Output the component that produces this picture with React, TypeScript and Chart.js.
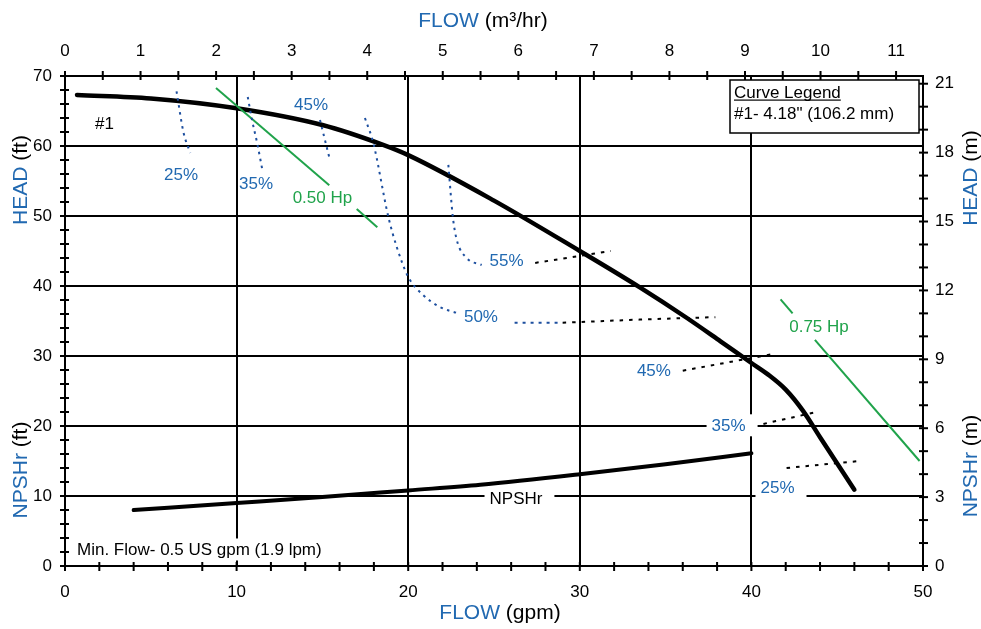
import React, { useEffect, useRef } from "react";
import { Chart, registerables } from "chart.js";

Chart.register(...registerables);

const FONT = '"Liberation Sans", Arial, Helvetica, sans-serif';
const BLUE = "#2169b1";
const EFF_BLUE = "#1d4f9f";
const GREEN = "#20a34b";
const BLACK = "#000000";

// unit conversions for the secondary axes
const GPM_PER_M3H = 4.40287;
const FT_PER_M = 3.28084;

// axis ranges and tick steps
const FLOW_MAX_GPM = 50;
const HEAD_MAX_FT = 70;
const gpmTickStep = 2;
const gpmLabelStep = 10;
const ftTickStep = 2;
const ftLabelStep = 10;
const m3hTickStep = 0.5;
const mTickStep = 1;
const mLabelStep = 3;

type Pt = [number, number];

// [flow (gpm), head (ft)]
const headCurve1: Pt[] = [
  [0.7, 67.3], [5, 66.8], [10, 65.4], [15, 63.0], [18.5, 60.2], [20, 58.7],
  [25, 52.2], [30, 45.0], [33.5, 39.8], [36.2, 35.5], [38.2, 32.1], [40, 29.0],
  [41, 27.3], [42, 25.2], [43, 22.2], [44, 18.4], [46, 10.9],
];
const npshrCurve: Pt[] = [
  [4, 8.0], [10, 9.0], [15, 9.85], [20, 10.8], [24.2, 11.6], [30, 13.1], [35, 14.55], [40, 16.1],
];

// efficiency iso-lines (left branches, blue dotted)
const eff25Left: Pt[] = [[6.5, 67.8], [6.9, 62.0], [7.3, 59.0]];
const eff35Left: Pt[] = [[10.65, 67.0], [10.9, 63.7], [11.2, 60.4], [11.5, 56.6]];
const eff45Left: Pt[] = [[14.86, 63.7], [15.44, 58.0]];
const eff50Left: Pt[] = [
  [17.48, 64.0], [17.97, 60.4], [18.84, 49.9], [19.33, 45.6], [20.0, 41.3],
  [20.88, 38.7], [21.85, 37.0], [22.9, 36.1],
];
const eff50RightBlue: Pt[] = [[26.2, 34.75], [29.0, 34.75]];
const eff55Left: Pt[] = [[22.34, 57.3], [22.6, 49.9], [22.83, 46.6], [23.41, 44.0], [24.28, 43.0]];

// efficiency iso-lines (right branches, black dashed)
const eff50Right: Pt[] = [[29.0, 34.75], [33.5, 35.2], [37.9, 35.55]];
const eff55Right: Pt[] = [[27.4, 43.3], [31.8, 45.0]];
const eff45Right: Pt[] = [[36.0, 27.9], [41.3, 30.3]];
const eff35Right: Pt[] = [[40.7, 20.3], [43.8, 22.0]];
const eff25Right: Pt[] = [[42.05, 14.0], [46.3, 15.0]];

// power lines (green)
const hp050Upper: Pt[] = [[8.8, 68.3], [15.4, 54.4]];
const hp050Lower: Pt[] = [[17.0, 51.0], [18.2, 48.4]];
const hp075Upper: Pt[] = [[41.7, 38.1], [42.4, 36.1]];
const hp075Lower: Pt[] = [[43.7, 32.3], [49.8, 15.0]];

// text placed on the plot, positioned in data units
const plotLabels = [
  { text: "25%", flow: 6.76, head: 55.9, color: BLUE },
  { text: "35%", flow: 11.13, head: 54.7, color: BLUE },
  { text: "45%", flow: 14.34, head: 65.9, color: BLUE },
  { text: "55%", flow: 25.73, head: 43.7, color: BLUE },
  { text: "50%", flow: 24.24, head: 35.6, color: BLUE },
  { text: "45%", flow: 34.32, head: 27.9, color: BLUE },
  { text: "35%", flow: 38.67, head: 20.1, color: BLUE, boxed: true },
  { text: "25%", flow: 41.52, head: 11.3, color: BLUE, boxed: true },
  { text: "0.50 Hp", flow: 15.0, head: 52.7, color: GREEN },
  { text: "0.75 Hp", flow: 43.94, head: 34.2, color: GREEN },
  { text: "NPSHr", flow: 26.28, head: 9.6, color: BLACK, boxed: true },
  { text: "#1", flow: 2.3, head: 63.2, color: BLACK },
  { text: "Min. Flow- 0.5 US gpm (1.9 lpm)", flow: 0.7, head: 2.36, color: BLACK, boxed: true, left: true },
];

const legendTitle = "Curve Legend";
const legendEntries = ['#1- 4.18" (106.2 mm)'];

const titleTop: [string, string][] = [["FLOW", BLUE], [" (m³/hr)", BLACK]];
const titleBottom: [string, string][] = [["FLOW", BLUE], [" (gpm)", BLACK]];
const titleLeftHead: [string, string][] = [["HEAD", BLUE], [" (ft)", BLACK]];
const titleLeftNpsh: [string, string][] = [["NPSHr", BLUE], [" (ft)", BLACK]];
const titleRightHead: [string, string][] = [["HEAD", BLUE], [" (m)", BLACK]];
const titleRightNpsh: [string, string][] = [["NPSHr", BLUE], [" (m)", BLACK]];

const pts = (a: Pt[]) => a.map(([x, y]) => ({ x, y }));

function series(data: Pt[], color: string, width: number, dash: number[] = [], smooth = true, cap: CanvasLineCap = "butt") {
  return {
    data: pts(data),
    borderColor: color,
    backgroundColor: color,
    borderWidth: width,
    borderDash: dash,
    borderCapStyle: cap,
    pointRadius: 0,
    pointHoverRadius: 0,
    showLine: true,
    fill: false,
    tension: smooth ? 0.4 : 0,
    cubicInterpolationMode: smooth ? "monotone" : "default",
  };
}

const near = (v: number, step: number) => Math.abs(v / step - Math.round(v / step)) < 1e-6;

function drawParts(ctx: CanvasRenderingContext2D, parts: [string, string][], x: number, y: number, rotate: boolean) {
  ctx.save();
  ctx.translate(x, y);
  if (rotate) ctx.rotate(-Math.PI / 2);
  ctx.font = `21px ${FONT}`;
  ctx.textAlign = "left";
  ctx.textBaseline = "alphabetic";
  const total = parts.reduce((s, p) => s + ctx.measureText(p[0]).width, 0);
  let cx = -total / 2;
  for (const [t, c] of parts) {
    ctx.fillStyle = c;
    ctx.fillText(t, cx, 0);
    cx += ctx.measureText(t).width;
  }
  ctx.restore();
}

const decorPlugin = {
  id: "decor",
  afterDatasetsDraw(chart: any) {
    const ctx: CanvasRenderingContext2D = chart.ctx;
    const xs = chart.scales.x;
    const ys = chart.scales.y;
    const ca = chart.chartArea;
    ctx.save();
    ctx.font = `17px ${FONT}`;
    ctx.textBaseline = "middle";
    ctx.textAlign = "left";
    for (const l of plotLabels) {
      const px = xs.getPixelForValue(l.flow);
      const py = ys.getPixelForValue(l.head);
      const w = ctx.measureText(l.text).width;
      const left = (l as any).left ? px : px - w / 2;
      if ((l as any).boxed) {
        ctx.fillStyle = "#ffffff";
        ctx.fillRect(left - 5, py - 11, w + 17, 22);
      }
      ctx.fillStyle = l.color;
      ctx.fillText(l.text, left, py + 1);
    }
    // curve legend box
    const bw = 189, bh = 53;
    const bx = ca.right - 4 - bw;
    const by = ca.top + 4;
    ctx.fillStyle = "#ffffff";
    ctx.fillRect(bx, by, bw, bh);
    ctx.strokeStyle = BLACK;
    ctx.lineWidth = 1.5;
    ctx.strokeRect(bx, by, bw, bh);
    ctx.fillStyle = BLACK;
    ctx.textBaseline = "alphabetic";
    ctx.fillText(legendTitle, bx + 4, by + 17.5);
    const tw = ctx.measureText(legendTitle).width;
    ctx.fillRect(bx + 4, by + 19.5, tw, 1.2);
    legendEntries.forEach((e, i) => ctx.fillText(e, bx + 4, by + 39 + i * 21));
    ctx.restore();
  },
  afterDraw(chart: any) {
    const ctx: CanvasRenderingContext2D = chart.ctx;
    const ca = chart.chartArea;
    ctx.save();
    ctx.strokeStyle = BLACK;
    ctx.lineWidth = 2;
    const OUT = 5, IN = 4;
    const drawTicks = (id: string) => {
      const s = chart.scales[id];
      for (const t of s.ticks) {
        const p = s.getPixelForValue(t.value);
        ctx.beginPath();
        if (id === "x") { ctx.moveTo(p, ca.bottom - IN); ctx.lineTo(p, ca.bottom + OUT); }
        if (id === "x2") { ctx.moveTo(p, ca.top + IN); ctx.lineTo(p, ca.top - OUT); }
        if (id === "y") { ctx.moveTo(ca.left + IN, p); ctx.lineTo(ca.left - OUT, p); }
        if (id === "y2") { ctx.moveTo(ca.right - IN, p); ctx.lineTo(ca.right + OUT, p); }
        ctx.stroke();
      }
    };
    ["x", "x2", "y", "y2"].forEach(drawTicks);
    ctx.restore();
    drawParts(ctx, titleTop, 483, 27, false);
    drawParts(ctx, titleBottom, 500, 619, false);
    drawParts(ctx, titleLeftHead, 27, 180, true);
    drawParts(ctx, titleLeftNpsh, 27, 470, true);
    drawParts(ctx, titleRightHead, 977, 178, true);
    drawParts(ctx, titleRightNpsh, 977, 466, true);
  },
};

const tickFont = { family: FONT, size: 17 };

export default function App() {
  const ref = useRef<HTMLCanvasElement | null>(null);
  useEffect(() => {
    if (!ref.current) return;
    const chart = new Chart(ref.current, {
      type: "scatter",
      data: {
        datasets: [
          series(eff25Left, EFF_BLUE, 2, [2.5, 4.5]),
          series(eff35Left, EFF_BLUE, 2, [2.5, 4.5]),
          series(eff45Left, EFF_BLUE, 2, [2.5, 4.5]),
          series(eff50Left, EFF_BLUE, 2, [2.5, 4.5]),
          series(eff50RightBlue, EFF_BLUE, 2, [3, 5]),
          series(eff55Left, EFF_BLUE, 2, [2.5, 4.5]),
          series(eff50Right, BLACK, 2, [3.5, 6]),
          series(eff55Right, BLACK, 2, [3.5, 6]),
          series(eff45Right, BLACK, 2, [3.5, 6]),
          series(eff35Right, BLACK, 2, [3.5, 6]),
          series(eff25Right, BLACK, 2, [3.5, 6]),
          series(hp050Upper, GREEN, 2, [], false),
          series(hp050Lower, GREEN, 2, [], false),
          series(hp075Upper, GREEN, 2, [], false),
          series(hp075Lower, GREEN, 2, [], false),
          series(npshrCurve, BLACK, 4, [], true, "round"),
          series(headCurve1, BLACK, 4.5, [], true, "round"),
        ] as any,
      },
      options: {
        animation: false,
        responsive: true,
        maintainAspectRatio: false,
        layout: { padding: 0 },
        events: [],
        plugins: { legend: { display: false }, tooltip: { enabled: false }, title: { display: false } },
        scales: {
          x: {
            type: "linear",
            position: "bottom",
            min: 0,
            max: FLOW_MAX_GPM,
            afterFit: (s: any) => { s.height = 63; },
            ticks: {
              stepSize: gpmTickStep,
              autoSkip: false,
              maxRotation: 0,
              includeBounds: false,
              padding: 16,
              color: BLACK,
              font: tickFont,
              callback: (v: any) => (near(v, gpmLabelStep) ? String(v) : ""),
            },
            grid: {
              drawTicks: false,
              lineWidth: 2,
              color: (c: any) => {
                const v = c.tick?.value;
                return v !== undefined && near(v, gpmLabelStep) && v > 0 && v < FLOW_MAX_GPM ? BLACK : "rgba(0,0,0,0)";
              },
            },
            border: { display: true, color: BLACK, width: 2 },
          },
          y: {
            type: "linear",
            position: "left",
            min: 0,
            max: HEAD_MAX_FT,
            afterFit: (s: any) => { s.width = 65; },
            ticks: {
              stepSize: ftTickStep,
              autoSkip: false,
              includeBounds: false,
              padding: 13,
              color: BLACK,
              font: tickFont,
              callback: (v: any) => (near(v, ftLabelStep) ? String(v) : ""),
            },
            grid: {
              drawTicks: false,
              lineWidth: 2,
              color: (c: any) => {
                const v = c.tick?.value;
                return v !== undefined && near(v, ftLabelStep) && v > 0 && v < HEAD_MAX_FT ? BLACK : "rgba(0,0,0,0)";
              },
            },
            border: { display: true, color: BLACK, width: 2 },
          },
          x2: {
            type: "linear",
            position: "top",
            min: 0,
            max: FLOW_MAX_GPM / GPM_PER_M3H,
            afterFit: (s: any) => { s.height = 76; },
            ticks: {
              stepSize: m3hTickStep,
              autoSkip: false,
              maxRotation: 0,
              includeBounds: false,
              padding: 14,
              color: BLACK,
              font: tickFont,
              callback: (v: any) => (near(v, 1) ? String(Math.round(v)) : ""),
            },
            grid: { drawTicks: false, drawOnChartArea: false },
            border: { display: true, color: BLACK, width: 2 },
          },
          y2: {
            type: "linear",
            position: "right",
            min: 0,
            max: HEAD_MAX_FT / FT_PER_M,
            afterFit: (s: any) => { s.width = 58; },
            ticks: {
              stepSize: mTickStep,
              autoSkip: false,
              includeBounds: false,
              padding: 12,
              color: BLACK,
              font: tickFont,
              callback: (v: any) => (near(v, mLabelStep) ? String(Math.round(v)) : ""),
            },
            grid: { drawTicks: false, drawOnChartArea: false },
            border: { display: true, color: BLACK, width: 2 },
          },
        },
      } as any,
      plugins: [decorPlugin],
    });
    return () => chart.destroy();
  }, []);
  return (
    <div style={{ position: "fixed", left: 0, top: 0, width: 981, height: 629, background: "#fff" }}>
      <canvas ref={ref} />
    </div>
  );
}
